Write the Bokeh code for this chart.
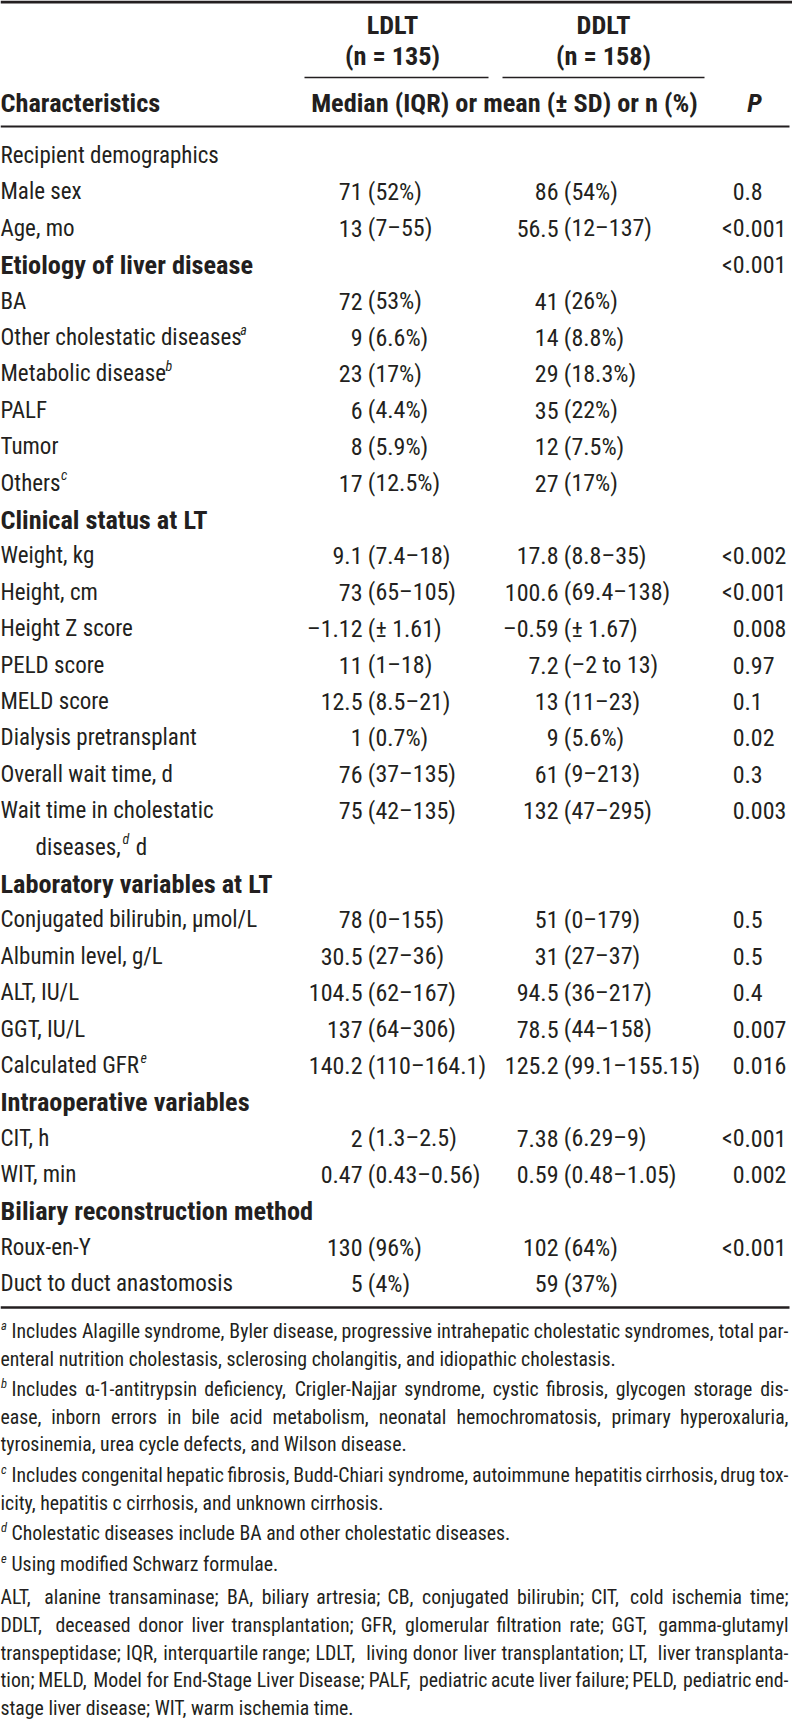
from bokeh.plotting import figure
from bokeh.models import Range1d, ColumnDataSource
from bokeh.core.properties import value
from bokeh.embed import file_html
from bokeh.resources import INLINE

FONT = "Roboto Condensed"
INK = "#231f20"

# ---------------- data ----------------
col_groups = ["LDLT", "DDLT"]
col_ns = ["(n = 135)", "(n = 158)"]
stat_header = "Median (IQR) or mean (\u00b1 SD) or n (%)"
first_header = "Characteristics"
p_header = "P"

row_labels = ["Recipient demographics", "Male sex", "Age, mo", "Etiology of liver disease", "BA",
              "Other cholestatic diseases", "Metabolic disease", "PALF", "Tumor", "Others",
              "Clinical status at LT", "Weight, kg", "Height, cm", "Height Z score", "PELD score",
              "MELD score", "Dialysis pretransplant", "Overall wait time, d", "Wait time in cholestatic",
              "diseases,", "Laboratory variables at LT", "Conjugated bilirubin, \u00b5mol/L",
              "Albumin level, g/L", "ALT, IU/L", "GGT, IU/L", "Calculated GFR", "Intraoperative variables",
              "CIT, h", "WIT, min", "Biliary reconstruction method", "Roux-en-Y", "Duct to duct anastomosis"]
section_rows = [3, 10, 20, 26, 29]
continuation_rows = [19]
row_superscripts = {5: "a", 6: "b", 9: "c", 19: "d", 25: "e"}
row_after_sup = {19: "d"}

ldlt = ["", "71 (52%)", "13 (7\u201355)", "", "72 (53%)", "9 (6.6%)", "23 (17%)", "6 (4.4%)", "8 (5.9%)",
        "17 (12.5%)", "", "9.1 (7.4\u201318)", "73 (65\u2013105)", "\u20131.12 (\u00b1 1.61)", "11 (1\u201318)",
        "12.5 (8.5\u201321)", "1 (0.7%)", "76 (37\u2013135)", "75 (42\u2013135)", "", "", "78 (0\u2013155)",
        "30.5 (27\u201336)", "104.5 (62\u2013167)", "137 (64\u2013306)", "140.2 (110\u2013164.1)", "",
        "2 (1.3\u20132.5)", "0.47 (0.43\u20130.56)", "", "130 (96%)", "5 (4%)"]
ddlt = ["", "86 (54%)", "56.5 (12\u2013137)", "", "41 (26%)", "14 (8.8%)", "29 (18.3%)", "35 (22%)",
        "12 (7.5%)", "27 (17%)", "", "17.8 (8.8\u201335)", "100.6 (69.4\u2013138)", "\u20130.59 (\u00b1 1.67)",
        "7.2 (\u20132 to 13)", "13 (11\u201323)", "9 (5.6%)", "61 (9\u2013213)", "132 (47\u2013295)", "", "",
        "51 (0\u2013179)", "31 (27\u201337)", "94.5 (36\u2013217)", "78.5 (44\u2013158)",
        "125.2 (99.1\u2013155.15)", "", "7.38 (6.29\u20139)", "0.59 (0.48\u20131.05)", "", "102 (64%)",
        "59 (37%)"]
pvals = ["", "0.8", "<0.001", "<0.001", "", "", "", "", "", "", "", "<0.002", "<0.001", "0.008", "0.97",
         "0.1", "0.02", "0.3", "0.003", "", "", "0.5", "0.5", "0.4", "0.007", "0.016", "", "<0.001",
         "0.002", "", "<0.001", ""]

footnotes = [
    ("a", ["Includes Alagille syndrome, Byler disease, progressive intrahepatic cholestatic syndromes, total par-",
           "enteral nutrition cholestasis, sclerosing cholangitis, and idiopathic cholestasis."]),
    ("b", ["Includes \u03b1-1-antitrypsin deficiency, Crigler-Najjar syndrome, cystic fibrosis, glycogen storage dis-",
           "ease, inborn errors in bile acid metabolism, neonatal hemochromatosis, primary hyperoxaluria,",
           "tyrosinemia, urea cycle defects, and Wilson disease."]),
    ("c", ["Includes congenital hepatic fibrosis, Budd-Chiari syndrome, autoimmune hepatitis cirrhosis, drug tox-",
           "icity, hepatitis c cirrhosis, and unknown cirrhosis."]),
    ("d", ["Cholestatic diseases include BA and other cholestatic diseases."]),
    ("e", ["Using modified Schwarz formulae."]),
    ("", ["ALT, alanine transaminase; BA, biliary artresia; CB, conjugated bilirubin; CIT, cold ischemia time;",
          "DDLT, deceased donor liver transplantation; GFR, glomerular filtration rate; GGT, gamma-glutamyl",
          "transpeptidase; IQR, interquartile range; LDLT, living donor liver transplantation; LT, liver transplanta-",
          "tion; MELD, Model for End-Stage Liver Disease; PALF, pediatric acute liver failure; PELD, pediatric end-",
          "stage liver disease; WIT, warm ischemia time."]),
]

# ---------------- approximate metrics (Roboto units/2048, condensed ~0.9) ----------------
RW = {' ': 507, '!': 527, '"': 640, '%': 1465, "'": 313, '(': 699, ')': 709, '+': 1135, ',': 393, '-': 552,
      '.': 527, '/': 825, ':': 496, ';': 433, '<': 1041, '=': 1124, '>': 1069,
      'A': 1336, 'B': 1275, 'C': 1333, 'D': 1343, 'E': 1164, 'F': 1132, 'G': 1394, 'H': 1460, 'I': 557,
      'J': 1130, 'K': 1284, 'L': 1102, 'M': 1788, 'N': 1460, 'O': 1408, 'P': 1292, 'Q': 1408, 'R': 1261,
      'S': 1216, 'T': 1222, 'U': 1328, 'V': 1303, 'W': 1817, 'X': 1284, 'Y': 1230, 'Z': 1226,
      'a': 1087, 'b': 1122, 'c': 1046, 'd': 1126, 'e': 1058, 'f': 694, 'g': 1122, 'h': 1102, 'i': 486,
      'j': 477, 'k': 1014, 'l': 486, 'm': 1751, 'n': 1104, 'o': 1139, 'p': 1122, 'q': 1131, 'r': 677,
      's': 1031, 't': 654, 'u': 1102, 'v': 968, 'w': 1502, 'x': 991, 'y': 945, 'z': 991,
      '\u2013': 1150, '\u00b1': 1080, '\u00b5': 1135, '\u03b1': 1160}
for d in "0123456789":
    RW[d] = 1150
KCOND = 0.902


def tw(s, size):
    return sum(RW.get(c, 1100) for c in s) / 2048.0 * KCOND * size


# ---------------- figure ----------------
W, H = 792, 1721
BODY = 23.0
NUM = 24.0
BOLD = 26.3
FN = 19.8
SUP = 14.0
FSUP = 12.5

p = figure(width=W, height=H, x_range=Range1d(0, W), y_range=Range1d(H, 0),
           output_backend="svg", toolbar_location=None, min_border=0,
           x_axis_location=None, y_axis_location=None)
p.outline_line_color = None
p.xgrid.visible = False
p.ygrid.visible = False
p.background_fill_color = "white"
p.border_fill_color = "white"

texts = {k: [] for k in ("x", "y", "t", "size", "align", "style")}


def put(x, y, t, size, align="left", style="normal"):
    texts["x"].append(x)
    texts["y"].append(y)
    texts["t"].append(t)
    texts["size"].append("%.1fpx" % size)
    texts["align"].append(align)
    texts["style"].append(style)


X_LABEL = 0.0
X_LD = 362.0   # right edge of leading number, LDLT
X_DD = 558.0   # right edge of leading number, DDLT
X_P = 744.0    # decimal point of P
C_LD = 392.0
C_DD = 603.0

# header
put(C_LD, 24, col_groups[0], BOLD, "center", "bold")
put(C_DD, 24, col_groups[1], BOLD, "center", "bold")
put(C_LD, 55, col_ns[0], BOLD, "center", "bold")
put(C_DD, 55, col_ns[1], BOLD, "center", "bold")
put(X_LABEL, 102, first_header, BOLD, "left", "bold")
put(504, 102, stat_header, BOLD, "center", "bold")
put(754, 102, p_header, BOLD, "center", "bold italic")

ROW0 = 155.0
STEP = 36.4
sp_num = tw(" ", NUM)
for i, lab in enumerate(row_labels):
    y = ROW0 + STEP * i
    x0 = 35.0 if i in continuation_rows else X_LABEL
    if i in section_rows:
        put(x0, y, lab, BOLD, "left", "bold")
    else:
        put(x0, y, lab, BODY, "left", "normal")
    if i in row_superscripts:
        xs = x0 + tw(lab, BODY) + (3.0 if lab.endswith(",") else 0.5)
        put(xs, y - 8, row_superscripts[i], SUP, "left", "italic")
        if i in row_after_sup:
            put(xs + tw(row_superscripts[i], SUP) + tw(" ", BODY) + 1, y, row_after_sup[i], BODY)
    for xa, v in ((X_LD, ldlt[i]), (X_DD, ddlt[i])):
        if v:
            head, rest = v.split(" ", 1)
            put(xa, y, head, NUM, "right")
            put(xa + sp_num, y, rest, NUM, "left")
    pv = pvals[i]
    if pv:
        a, b = pv.split(".")
        put(X_P, y, a, NUM, "right")
        put(X_P, y, "." + b, NUM, "left")

# footnotes (justified)
RIGHT = 788.0
FN_STEP = 27.6
y = 1331.0
for k, (sup, lines) in enumerate(footnotes):
    if k == 5:
        y += 3.0
    for j, line in enumerate(lines):
        x_start = 0.0
        if j == 0 and sup:
            put(0.5, y - 6, sup, FSUP, "left", "italic")
            x_start = 11.0
        words = line.split(" ")
        last = (j == len(lines) - 1)
        if last or len(words) < 2:
            put(x_start, y, line, FN)
        else:
            fs = FN
            avail = RIGHT - x_start
            while True:
                widths = [tw(w, fs) for w in words]
                gap = (avail - sum(widths)) / (len(words) - 1)
                if gap >= 0.7 * tw(" ", fs) or fs < 15:
                    break
                fs -= 0.2
            xx = x_start
            for n, (w, ww) in enumerate(zip(words, widths)):
                if n == len(words) - 1:
                    put(RIGHT, y, w, fs, "right")
                else:
                    put(xx, y, w, fs)
                xx += ww + gap
        y += FN_STEP
    y += 3.0

src = ColumnDataSource(texts)
p.text(x="x", y="y", text="t", source=src, text_font=value(FONT), text_font_size="size",
       text_align="align", text_font_style="style", text_baseline="middle", text_color=INK)

# rules
rule_src = ColumnDataSource(dict(
    x0=[0, 304, 502, 0, 0], x1=[W, 488, 704, 789, 789],
    y0=[1.5, 77, 77, 126, 1307], y1=[1.5, 77, 77, 126, 1307],
    lw=[3, 1.5, 1.5, 2, 2.5]))
p.segment(x0="x0", y0="y0", x1="x1", y1="y1", line_width="lw", line_color=INK, source=rule_src)

open("out.html", "w").write(file_html(p, INLINE))
